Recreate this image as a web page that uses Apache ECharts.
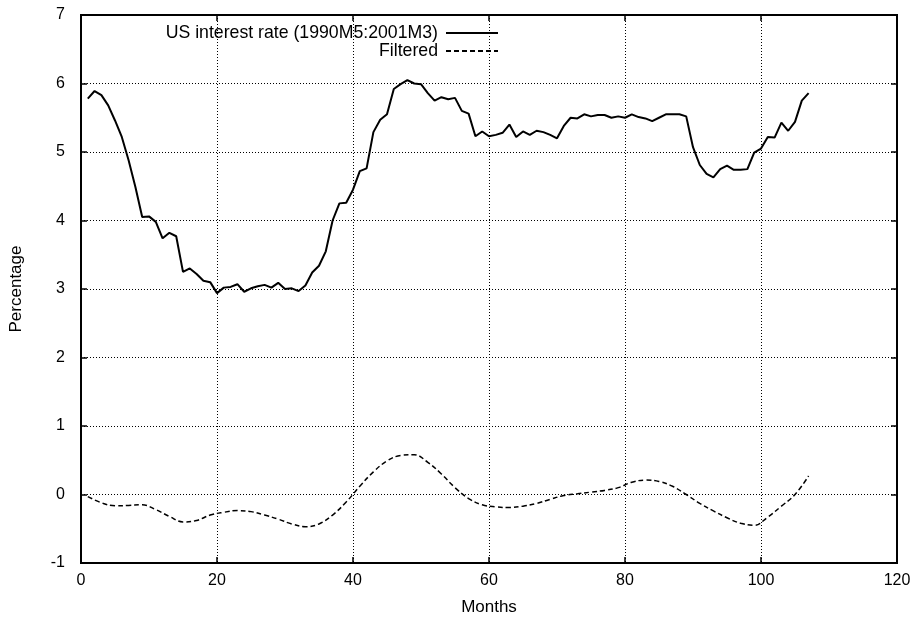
<!DOCTYPE html>
<html>
<head>
<meta charset="utf-8">
<script src="https://cdn.jsdelivr.net/npm/echarts@6/dist/echarts.min.js"></script>
<style>
  html, body { margin: 0; padding: 0; background: #fff; }
  #chart { width: 914px; height: 622px; }
</style>
</head>
<body>
<div id="chart"></div>
<script>
// Monthly US interest rate, 1990M5 to 2001M3 (month index 1..107)
const rateValues = [
  5.78, 5.89, 5.83, 5.68, 5.46, 5.22, 4.88, 4.49, 4.05, 4.06,
  3.98, 3.74, 3.82, 3.77, 3.25, 3.30, 3.22, 3.12, 3.10, 2.94,
  3.02, 3.03, 3.07, 2.96, 3.01, 3.04, 3.06, 3.02, 3.09, 3.00,
  3.01, 2.97, 3.05, 3.24, 3.34, 3.55, 4.00, 4.25, 4.26, 4.45,
  4.72, 4.76, 5.29, 5.47, 5.55, 5.92, 5.99, 6.05, 6.00, 5.99,
  5.86, 5.75, 5.80, 5.77, 5.79, 5.60, 5.56, 5.23, 5.30, 5.23,
  5.25, 5.28, 5.40, 5.22, 5.30, 5.25, 5.31, 5.29, 5.25, 5.20,
  5.38, 5.50, 5.49, 5.55, 5.52, 5.54, 5.54, 5.50, 5.52, 5.50,
  5.55, 5.51, 5.49, 5.45, 5.50, 5.55, 5.55, 5.55, 5.52, 5.07,
  4.81, 4.68, 4.63, 4.75, 4.80, 4.74, 4.74, 4.75, 4.99, 5.05,
  5.22, 5.21, 5.43, 5.31, 5.44, 5.75, 5.86
];

// Filtered (cyclical) component, sampled every second month
const filteredMonths = [
  1, 3, 5, 7, 9, 11, 13, 15, 17, 19,
  21, 23, 25, 27, 29, 31, 33, 35, 37, 39,
  41, 43, 45, 47, 49, 51, 53, 55, 57, 59,
  61, 63, 65, 67, 69, 71, 73, 75, 77, 79,
  81, 83, 85, 87, 89, 91, 93, 95, 97, 99,
  101, 103, 105, 107
];
const filteredValues = [
  -0.03, -0.12, -0.165, -0.16, -0.15, -0.22, -0.32, -0.40, -0.38, -0.30,
  -0.26, -0.235, -0.25, -0.30, -0.36, -0.43, -0.47, -0.43, -0.30, -0.11,
  0.12, 0.33, 0.49, 0.57, 0.58, 0.47, 0.30, 0.10, -0.06, -0.15,
  -0.18, -0.19, -0.17, -0.13, -0.07, -0.015, 0.01, 0.035, 0.06, 0.10,
  0.18, 0.21, 0.19, 0.12, 0.00, -0.13, -0.24, -0.34, -0.42, -0.45,
  -0.33, -0.17, 0.00, 0.27
];

const seriesNames = ['US interest rate (1990M5:2001M3)', 'Filtered'];
const xTicks = { min: 0, max: 120, interval: 20 };
const yTicks = { min: -1, max: 7, interval: 1 };

const rateData = rateValues.map((v, i) => [i + 1, v]);
const filteredData = filteredMonths.map((m, i) => [m, filteredValues[i]]);

const FONT = 'Liberation Sans, Arial, Helvetica, sans-serif';
const INK = '#000';

function xAxisDef(position, withLabels) {
  return {
    type: 'value', position: position,
    min: xTicks.min, max: xTicks.max, interval: xTicks.interval,
    name: withLabels ? 'Months' : '',
    nameLocation: 'middle', nameGap: 36,
    nameTextStyle: { fontFamily: FONT, fontSize: 17, color: INK },
    axisLine: { show: true, onZero: false, lineStyle: { color: INK, width: 2 } },
    axisTick: { show: true, inside: true, length: 6, lineStyle: { color: INK, width: 1.5 } },
    axisLabel: { show: withLabels, margin: 10, fontFamily: FONT, fontSize: 16, color: INK },
    splitLine: { show: withLabels, lineStyle: { color: INK, width: 1, type: [1, 2] } }
  };
}
function yAxisDef(position, withLabels) {
  return {
    type: 'value', position: position,
    min: yTicks.min, max: yTicks.max, interval: yTicks.interval,
    name: withLabels ? 'Percentage' : '',
    nameLocation: 'middle', nameGap: 56, nameRotate: 90,
    nameTextStyle: { fontFamily: FONT, fontSize: 17, color: INK },
    axisLine: { show: true, onZero: false, lineStyle: { color: INK, width: 2 } },
    axisTick: { show: true, inside: true, length: 6, lineStyle: { color: INK, width: 1.5 } },
    axisLabel: { show: withLabels, margin: 16, fontFamily: FONT, fontSize: 16, color: INK },
    splitLine: { show: withLabels, lineStyle: { color: INK, width: 1, type: [1, 2] } }
  };
}

function legendDef(name, top) {
  return {
    data: [name], right: 415, top: top, padding: 0,
    align: 'right', orient: 'vertical',
    itemWidth: 52, itemHeight: 14, itemGap: 0,
    itemStyle: { opacity: 0 },
    textStyle: { fontFamily: FONT, fontSize: 17.7, color: INK, padding: [0, 3, 0, 0] },
    selectedMode: false
  };
}

const chart = echarts.init(document.getElementById('chart'), null, { renderer: 'canvas' });
chart.setOption({
  backgroundColor: '#fff',
  animation: false,
  grid: { left: 81, right: 17, top: 15, bottom: 59, containLabel: false,
          show: true, borderColor: INK, borderWidth: 2, backgroundColor: 'transparent' },
  legend: [legendDef(seriesNames[0], 24), legendDef(seriesNames[1], 42)],
  xAxis: [xAxisDef('bottom', true), xAxisDef('top', false)],
  yAxis: [yAxisDef('left', true), yAxisDef('right', false)],
  series: [
    {
      name: seriesNames[0], type: 'line', data: rateData,
      xAxisIndex: 0, yAxisIndex: 0,
      symbol: 'none', smooth: false,
      lineStyle: { color: INK, width: 2 },
      itemStyle: { color: INK }
    },
    {
      name: seriesNames[1], type: 'line', data: filteredData,
      xAxisIndex: 0, yAxisIndex: 0,
      symbol: 'none', smooth: 0.4,
      lineStyle: { color: INK, width: 1.5, type: [5, 3] },
      itemStyle: { color: INK }
    }
  ]
});
</script>
</body>
</html>
